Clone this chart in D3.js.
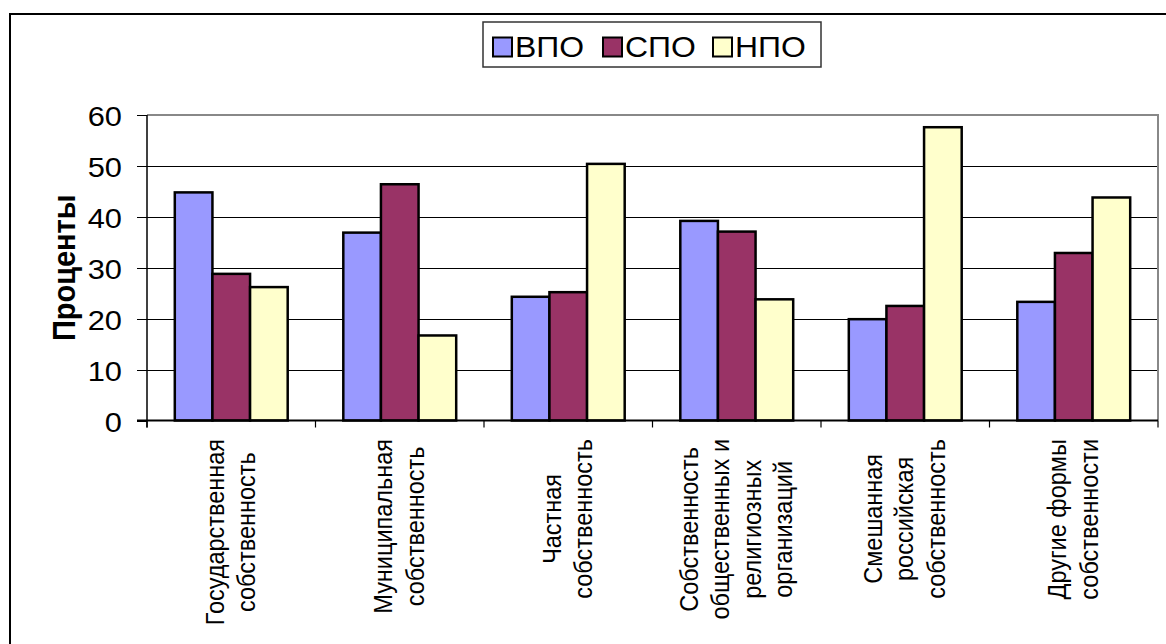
<!DOCTYPE html>
<html><head><meta charset="utf-8">
<script src="https://cdn.jsdelivr.net/npm/d3@7/dist/d3.min.js"></script>
<style>body{margin:0;background:#fff;}svg{display:block;font-family:"Liberation Sans",Arial,sans-serif;}</style>
</head><body>
<svg id="chart" width="1166" height="644"></svg>
<script>
const categories = [
  ["Государственная", "собственность"],
  ["Муниципальная", "собственность"],
  ["Частная", "собственность"],
  ["Собственность", "общественных и", "религиозных", "организаций"],
  ["Смешанная", "российская", "собственность"],
  ["Другие формы", "собственности"]
];
const seriesNames = ["ВПО", "СПО", "НПО"];
const seriesColors = ["#9999FF", "#993366", "#FFFFCC"];
const vpo = [44.8, 36.9, 24.3, 39.2, 19.9, 23.3];
const spo = [28.8, 46.4, 25.2, 37.1, 22.5, 32.9];
const npo = [26.2, 16.7, 50.4, 23.8, 57.6, 43.8];
const yTicks = [0, 10, 20, 30, 40, 50, 60];
const yTitle = "Проценты";

const seriesValues = [vpo, spo, npo];
const catKeys = categories.map(c => c.join(" "));
const svg = d3.select("#chart");
const SX = 1.1; // horizontal stretch of the original picture

const L = 147, R = 1158, T = 115, B = 420.5;

// outer frame
svg.append("rect").attr("x", 10).attr("y", 14).attr("width", 1170).attr("height", 650)
  .attr("fill", "#fff").attr("stroke", "#000").attr("stroke-width", 2);

const x0 = d3.scaleBand().domain(catKeys).range([L, R]).paddingInner(0.33).paddingOuter(0.165);
const x1 = d3.scaleBand().domain(seriesNames).range([0, x0.bandwidth()]);
const y = d3.scaleLinear().domain([0, 60]).range([B, T]);

// gridlines
svg.append("g").selectAll("line").data(yTicks.filter(t => t > 0 && t < 60)).join("line")
  .attr("x1", L).attr("x2", R).attr("y1", d => Math.round(y(d)) + 0.5).attr("y2", d => Math.round(y(d)) + 0.5)
  .attr("stroke", "#000").attr("stroke-width", 1);

// plot border (gray top and right)
svg.append("path").attr("d", `M${L},${y(60)}H${R}V${B}`).attr("fill", "none")
  .attr("stroke", "#888").attr("stroke-width", 2);

// y-axis ticks
svg.append("g").selectAll("line").data(yTicks).join("line")
  .attr("x1", L - 10).attr("x2", L).attr("y1", d => Math.round(y(d)) + 0.5).attr("y2", d => Math.round(y(d)) + 0.5)
  .attr("stroke", "#000").attr("stroke-width", 1);

// bars
const groups = svg.append("g").selectAll("g").data(catKeys).join("g")
  .attr("transform", d => `translate(${x0(d)},0)`);
groups.selectAll("rect").data((d, i) => seriesNames.map((s, j) => ({s, j, v: seriesValues[j][i]}))).join("rect")
  .attr("x", d => x1(d.s)).attr("width", x1.bandwidth())
  .attr("y", d => y(d.v)).attr("height", d => y(0) - y(d.v))
  .attr("fill", d => seriesColors[d.j]).attr("stroke", "#000").attr("stroke-width", 2.5);

// axes lines
svg.append("line").attr("x1", L).attr("x2", L).attr("y1", T).attr("y2", B + 7).attr("stroke", "#000").attr("stroke-width", 1.5);
svg.append("line").attr("x1", L - 10).attr("x2", R).attr("y1", B).attr("y2", B).attr("stroke", "#000").attr("stroke-width", 2);
const step = x0.step();
svg.append("g").selectAll("line").data(d3.range(catKeys.length + 1)).join("line")
  .attr("x1", i => L + i * step).attr("x2", i => L + i * step).attr("y1", B).attr("y2", B + 7)
  .attr("stroke", "#000").attr("stroke-width", 1.2);

// y tick labels
svg.append("g").selectAll("text").data(yTicks).join("text")
  .attr("transform", d => `translate(122,${y(d) + 11}) scale(${SX},1)`)
  .attr("text-anchor", "end").attr("font-size", 28).attr("fill", "#000").text(d => d);

// y title
svg.append("text").attr("transform", `translate(75,${(T + B) / 2}) scale(${SX},1) rotate(-90)`)
  .attr("text-anchor", "middle").attr("font-size", 29).attr("font-weight", "bold").text(yTitle);

// category labels
const lineStep = 28.6, lineOff = 7.3, topY = 439;
categories.forEach((lines, i) => {
  const cx = x0(catKeys[i]) + x0.bandwidth() / 2;
  const g = svg.append("g").attr("transform", `translate(${cx},${topY}) scale(${SX},1) rotate(-90)`);
  const texts = lines.map((ln, k) => g.append("text").attr("font-size", 23.5).attr("text-anchor", "middle")
    .attr("y", (k - (lines.length - 1) / 2) * lineStep + lineOff).text(ln));
  const maxLen = d3.max(texts, t => t.node().getComputedTextLength());
  texts.forEach(t => t.attr("x", -maxLen / 2));
});

// legend
svg.append("rect").attr("x", 483).attr("y", 22).attr("width", 338).attr("height", 45)
  .attr("fill", "#fff").attr("stroke", "#333").attr("stroke-width", 1.5);
seriesNames.forEach((s, j) => {
  const lx = 493 + j * 110;
  svg.append("rect").attr("x", lx).attr("y", 37.5).attr("width", 19).attr("height", 19)
    .attr("fill", seriesColors[j]).attr("stroke", "#000").attr("stroke-width", 2);
  svg.append("text").attr("transform", `translate(${lx + 22},56.5) scale(${SX},1)`)
    .attr("font-size", 29).text(s);
});
</script>
</body></html>
